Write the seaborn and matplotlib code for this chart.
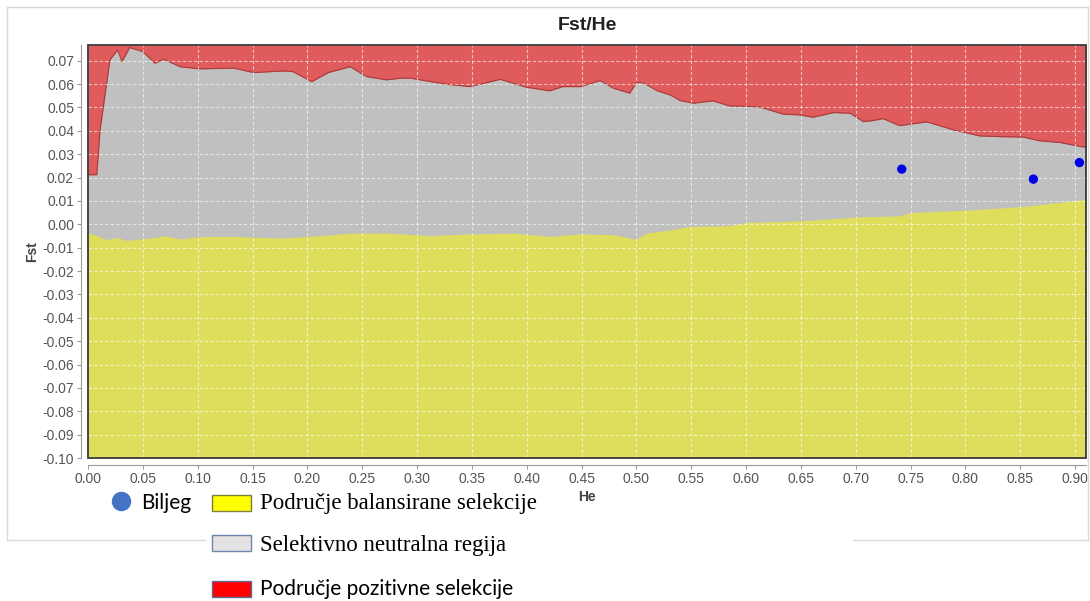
import numpy as np
import pandas as pd
import matplotlib
matplotlib.use("Agg")
import matplotlib.pyplot as plt
import seaborn as sns
from matplotlib.patches import Rectangle
from matplotlib.lines import Line2D

# upper boundary of the neutral region (grey / red)
he_upper = [0.0, 0.008, 0.011, 0.020, 0.027, 0.031, 0.038, 0.050, 0.061, 0.069,
            0.084, 0.102, 0.133, 0.151, 0.178, 0.187, 0.204, 0.219, 0.239, 0.254,
            0.272, 0.285, 0.294, 0.327, 0.348, 0.376, 0.400, 0.421, 0.433, 0.449,
            0.467, 0.479, 0.494, 0.500, 0.506, 0.519, 0.531, 0.540, 0.552, 0.570,
            0.585, 0.595, 0.613, 0.634, 0.649, 0.661, 0.680, 0.695, 0.707, 0.716,
            0.725, 0.740, 0.765, 0.789, 0.813, 0.832, 0.853, 0.868, 0.886, 0.906, 0.910]
fst_upper = [0.0212, 0.0212, 0.0404, 0.0703, 0.0746, 0.0696, 0.0756, 0.0739, 0.0689, 0.0706,
             0.0674, 0.0665, 0.0668, 0.0649, 0.0656, 0.0653, 0.0610, 0.0649, 0.0674, 0.0632,
             0.0618, 0.0625, 0.0625, 0.0599, 0.0589, 0.0620, 0.0586, 0.0571, 0.0589, 0.0589,
             0.0615, 0.0582, 0.0561, 0.0606, 0.0606, 0.0571, 0.0553, 0.0529, 0.0518, 0.0528,
             0.0506, 0.0506, 0.0501, 0.0471, 0.0468, 0.0458, 0.0478, 0.0475, 0.0439, 0.0444,
             0.0452, 0.0422, 0.0438, 0.0404, 0.0378, 0.0375, 0.0373, 0.0357, 0.0350, 0.0332, 0.0330]

# lower boundary of the neutral region (yellow / grey)
he_lower = [0.0, 0.006, 0.017, 0.026, 0.035, 0.057, 0.070, 0.084, 0.102, 0.129,
            0.175, 0.212, 0.239, 0.275, 0.312, 0.348, 0.388, 0.421, 0.449, 0.479,
            0.491, 0.499, 0.509, 0.531, 0.549, 0.585, 0.601, 0.631, 0.655, 0.701,
            0.740, 0.750, 0.807, 0.853, 0.906, 0.910]
fst_lower = [-0.0038, -0.0045, -0.0066, -0.0056, -0.0069, -0.0059, -0.0049, -0.0063, -0.0053, -0.0052,
             -0.0059, -0.0049, -0.0038, -0.0038, -0.0049, -0.0041, -0.0038, -0.0052, -0.0041, -0.0045,
             -0.0055, -0.0066, -0.0038, -0.0024, -0.0009, -0.0006, 0.0008, 0.0012, 0.0016, 0.0031,
             0.0036, 0.0050, 0.0062, 0.0076, 0.0105, 0.0107]

# loci
marker_he = [0.742, 0.862, 0.904]
marker_fst = [0.0236, 0.0193, 0.0264]

x_ticks = np.round(np.arange(0, 0.91, 0.05), 2)
y_ticks = np.round(np.arange(-0.10, 0.071, 0.01), 2)

legend_labels = ["Biljeg", "Područje balansirane selekcije",
                 "Selektivno neutralna regija", "Područje pozitivne selekcije"]

RED = "#e05c5c"
GREY = "#c0c0c0"
YELLOW = "#dede5c"

sns.set_style("white")
plt.rcParams["font.family"] = ["Liberation Sans", "DejaVu Sans"]

W, H = 1090, 601
fig = plt.figure(figsize=(W / 100, H / 100), dpi=100, facecolor="white")


def fx(px):
    return px / W


def fy(py):
    return 1 - py / H


def fmt(v):
    return f"{abs(v):.2f}" if abs(v) < 1e-9 else f"{v:.2f}"


ax = fig.add_axes([fx(88), fy(458), fx(1086) - fx(88), fy(45) - fy(458)])
ymin, ymax = -0.100, 0.0767
ax.set_facecolor(GREY)

ax.fill_between(he_upper, fst_upper, ymax, color=RED, lw=0)
ax.fill_between(he_lower, ymin, fst_lower, color=YELLOW, lw=0)
ax.plot(he_upper, fst_upper, color="#a83a3a", lw=0.8)

sns.scatterplot(x=marker_he, y=marker_fst, color="#0000e6", s=45, edgecolor="none",
                ax=ax, zorder=5)

ax.set_xlim(0, 0.910)
ax.set_ylim(ymin, ymax)
ax.set_xticks(x_ticks)
ax.set_yticks(y_ticks)
ax.set_xticklabels([fmt(v) for v in x_ticks])
ax.set_yticklabels([fmt(v) for v in y_ticks])
ax.grid(True, color="white", alpha=0.6, linestyle=(0, (3, 2)), lw=0.8)
ax.set_axisbelow(False)

for side in ["top", "right"]:
    ax.spines[side].set_visible(False)
for side in ["left", "bottom"]:
    ax.spines[side].set_position(("outward", 5))
    ax.spines[side].set_color("#9a9a9a")
    ax.spines[side].set_linewidth(0.8)
ax.add_patch(Rectangle((0, 0), 1, 1, transform=ax.transAxes, fill=False,
                       edgecolor="#3a3a3a", lw=1.3, zorder=10, clip_on=False))

ax.tick_params(axis="both", direction="out", length=3, width=0.8, color="#9a9a9a",
               labelsize=10, labelcolor="#555555", pad=2, left=True, bottom=True)

ax.set_title("Fst/He", fontsize=14, fontweight="bold", color="#222222", pad=11)
ax.set_xlabel("He", fontsize=10, fontweight="bold", color="#444444", labelpad=3)
ax.set_ylabel("Fst", fontsize=10, fontweight="bold", color="#444444", labelpad=2)

# outer frame of the screenshot
frame_col = "#d9d9d9"
for (x0, y0, x1, y1) in [(7, 7, 1088, 7), (7, 7, 7, 540), (7, 540, 205, 540),
                         (853, 540, 1090, 540), (1088, 7, 1088, 540)]:
    fig.add_artist(Line2D([fx(x0), fx(x1)], [fy(y0), fy(y1)], color=frame_col,
                          lw=1, transform=fig.transFigure))

# legend
fig.add_artist(Line2D([fx(121)], [fy(501)], marker="o", markersize=13, color="#4472c4",
                      transform=fig.transFigure))
fig.text(fx(141), fy(503), legend_labels[0], fontsize=15, va="center",
         family=["Lato", "DejaVu Sans"], color="black")

boxes = [(495, "#ffff00", "#7f7f40"), (535, "#e4e2e2", "#6f83b0"), (581, "#ff0000", "#5a6e9a")]
for (top, fc, ec) in boxes:
    fig.add_artist(Rectangle((fx(212), fy(top + 16)), fx(39), 16 / H, facecolor=fc,
                             edgecolor=ec, lw=1, transform=fig.transFigure))

fig.text(fx(260), fy(503), legend_labels[1], fontsize=16.5, va="center",
         family=["Liberation Serif", "DejaVu Serif"], color="black")
fig.text(fx(260), fy(545), legend_labels[2], fontsize=16.5, va="center",
         family=["Liberation Serif", "DejaVu Serif"], color="black")
fig.text(fx(260), fy(589), legend_labels[3], fontsize=15, va="center",
         family=["Lato", "DejaVu Sans"], color="black")

fig.savefig("out.png", dpi=100, facecolor="white")
